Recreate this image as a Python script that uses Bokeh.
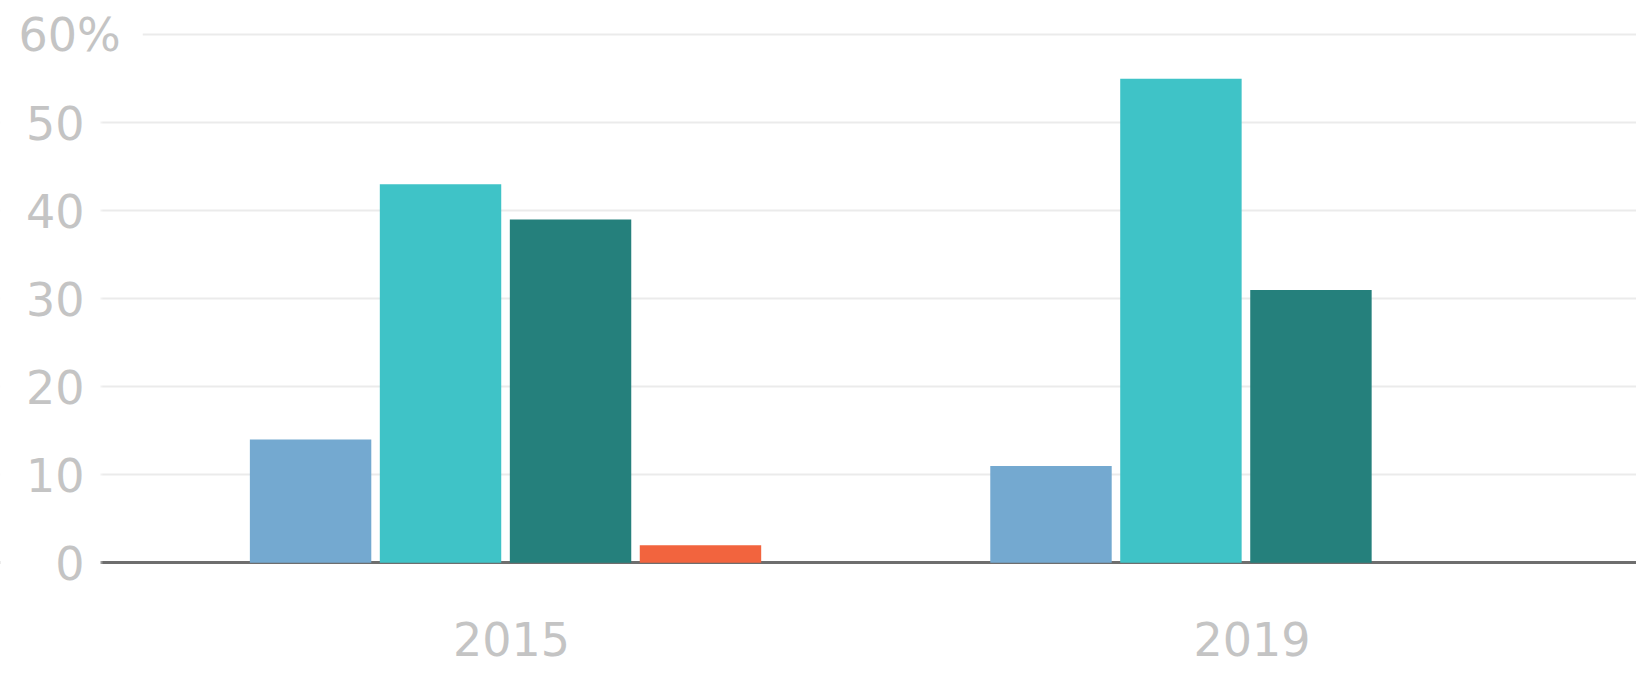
from bokeh.plotting import figure
from bokeh.models import (Range1d, FixedTicker, ColumnDataSource,
                          LabelSet, Label, Grid, BoxAnnotation)
from bokeh.transform import dodge
from bokeh.core.properties import value
from bokeh.embed import file_html
from bokeh.resources import INLINE

# ---- data ----
years = ["2015", "2019"]
series_a = [14, 11]
series_b = [43, 55]
series_c = [39, 31]
series_d = [2, 0]
y_ticks = [0, 10, 20, 30, 40, 50, 60]
y_tick_labels = ["0", "10", "20", "30", "40", "50", "60%"]

colors = ["#74a9d0", "#3fc3c7", "#25807c", "#f2643e"]
label_color = "#c4c4c4"
font = "DejaVu Sans"

x_pos = list(range(len(years)))
source = ColumnDataSource(dict(x=x_pos, year=years, a=series_a, b=series_b,
                               c=series_c, d=series_d))

p = figure(
    x_range=Range1d(-0.6821, 1.5275),
    y_range=Range1d(-11.78, 63.88),
    width=1636, height=666,
    output_backend="svg", toolbar_location=None,
    x_axis_location=None, y_axis_location=None,
    min_border=0,
)
p.outline_line_color = None
p.background_fill_color = "white"
p.border_fill_color = "white"
p.xgrid.visible = False
p.ygrid.visible = False

# horizontal grid lines
p.add_layout(Grid(dimension=1, ticker=FixedTicker(ticks=y_ticks[1:]),
                  grid_line_color="#ebebeb", grid_line_width=2), "center")
# baseline at zero
p.add_layout(Grid(dimension=1, ticker=FixedTicker(ticks=y_ticks[:1]),
                  grid_line_color="#6e6e6e", grid_line_width=3), "center")
# white mask for the label gutter (grid/baseline start right of the labels)
p.add_layout(BoxAnnotation(left=-10, right=100, left_units="screen",
                           right_units="screen", fill_color="white",
                           fill_alpha=1.0, line_color="white", line_width=4,
                           level="underlay"))

offsets = [-0.2633, -0.0878, 0.0878, 0.2633]
for key, off, col in zip(["a", "b", "c", "d"], offsets, colors):
    p.vbar(x=dodge("x", off), top=key, bottom=0,
           width=0.164, source=source, fill_color=col, line_color=None)

# category labels
p.add_layout(LabelSet(x="x", y=11, y_units="screen", text="year",
                      source=source, text_align="center", x_offset=6,
                      text_baseline="alphabetic", text_font_size="46px",
                      text_color=label_color, text_font=value(font)))

# value-axis labels
lbl_src = ColumnDataSource(dict(y=y_ticks[:-1], text=y_tick_labels[:-1]))
p.add_layout(LabelSet(x=84, y="y", text="text", x_units="screen",
                      y_units="data", source=lbl_src, text_align="right",
                      text_baseline="middle", text_font_size="46px",
                      text_color=label_color, text_font=value(font)))
p.add_layout(Label(x=-4, y=y_ticks[-1], x_units="screen", y_units="data",
                   text=y_tick_labels[-1], text_align="left",
                   text_baseline="middle", text_font_size="46px",
                   text_color=label_color, text_font=font,
                   background_fill_color="white", padding=22))

open("out.html", "w").write(file_html(p, INLINE))
